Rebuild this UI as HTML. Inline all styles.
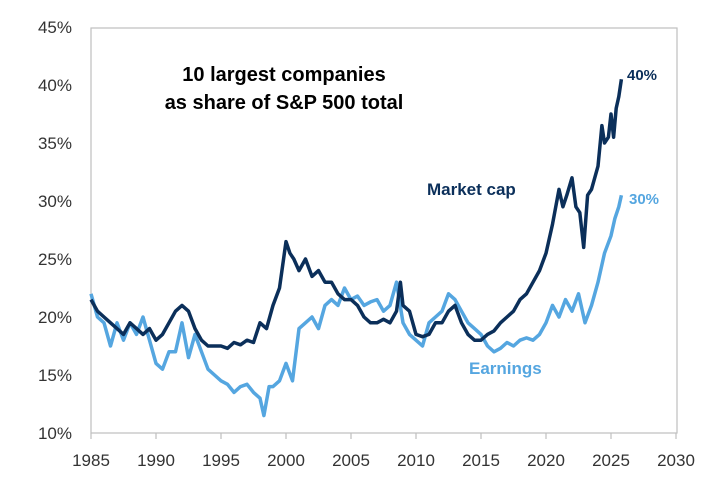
<!DOCTYPE html>
<html><head><meta charset="utf-8"><style>
body{margin:0;background:#fff;font-family:"Liberation Sans",Arial,sans-serif}
svg text{font-family:"Liberation Sans",Arial,sans-serif}
</style></head><body>
<svg id="chart" width="720" height="478" viewBox="0 0 720 478">
<rect x="91" y="28" width="586" height="405" fill="none" stroke="#bfbfbf" stroke-width="1.2"/>
<g id="axes"></g>
<g id="series"></g>
<text x="284" y="81" text-anchor="middle" font-size="20" font-weight="bold" fill="#000">10 largest companies</text>
<text x="284" y="109" text-anchor="middle" font-size="20" font-weight="bold" fill="#000">as share of S&amp;P 500 total</text>
<text x="427" y="195" font-size="17" font-weight="bold" fill="#0b2f5a">Market cap</text>
<text x="469" y="374" font-size="17" font-weight="bold" fill="#55a6e0">Earnings</text>
<text x="627" y="80" font-size="15" font-weight="bold" fill="#0b2f5a">40%</text>
<text x="629" y="204" font-size="15" font-weight="bold" fill="#55a6e0">30%</text>
</svg>
<script>
const yTicks=[10,15,20,25,30,35,40,45];
const xTicks=[1985,1990,1995,2000,2005,2010,2015,2020,2025,2030];
const mcYears=[1985,1985.5,1986,1986.5,1987,1987.5,1988,1988.5,1989,1989.5,1990,1990.5,1991,1991.5,1992,1992.5,1993,1993.5,1994,1994.5,1995,1995.5,1996,1996.5,1997,1997.5,1998,1998.5,1999,1999.5,2000,2000.3,2000.6,2001,2001.5,2002,2002.5,2003,2003.5,2004,2004.5,2005,2005.5,2006,2006.5,2007,2007.5,2008,2008.5,2008.8,2009,2009.5,2010,2010.5,2011,2011.5,2012,2012.5,2013,2013.5,2014,2014.5,2015,2015.5,2016,2016.5,2017,2017.5,2018,2018.5,2019,2019.5,2020,2020.5,2021,2021.3,2021.6,2022,2022.3,2022.6,2022.9,2023.2,2023.5,2024,2024.3,2024.5,2024.8,2025,2025.2,2025.4,2025.6,2025.8];
const mcValues=[21.5,20.5,20,19.5,19,18.5,19.5,19,18.5,19,18,18.5,19.5,20.5,21,20.5,19,18,17.5,17.5,17.5,17.3,17.8,17.6,18,17.8,19.5,19,21,22.5,26.5,25.5,25,24,25,23.5,24,23,23,22,21.5,21.5,21,20,19.5,19.5,19.8,19.5,20.5,23,21,20.5,18.5,18.3,18.5,19.5,19.5,20.5,21,19.5,18.5,18,18,18.5,18.8,19.5,20,20.5,21.5,22,23,24,25.5,28,31,29.5,30.5,32,29.5,29,26,30.5,31,33,36.5,35,35.5,37.5,35.5,38,39,40.5];
const erYears=[1985,1985.5,1986,1986.5,1987,1987.5,1988,1988.5,1989,1989.5,1990,1990.5,1991,1991.5,1992,1992.5,1993,1993.5,1994,1994.5,1995,1995.5,1996,1996.5,1997,1997.5,1998,1998.3,1998.7,1999,1999.5,2000,2000.5,2001,2001.5,2002,2002.5,2003,2003.5,2004,2004.5,2005,2005.5,2006,2006.5,2007,2007.5,2008,2008.5,2009,2009.5,2010,2010.5,2011,2011.5,2012,2012.5,2013,2013.5,2014,2014.5,2015,2015.5,2016,2016.5,2017,2017.5,2018,2018.5,2019,2019.5,2020,2020.5,2021,2021.5,2022,2022.5,2023,2023.5,2024,2024.5,2025,2025.3,2025.6,2025.8];
const erValues=[22,20,19.5,17.5,19.5,18,19.5,18.5,20,18,16,15.5,17,17,19.5,16.5,18.5,17,15.5,15,14.5,14.2,13.5,14,14.2,13.5,13,11.5,14,14,14.5,16,14.5,19,19.5,20,19,21,21.5,21,22.5,21.5,21.8,21,21.3,21.5,20.5,21,23,19.5,18.5,18,17.5,19.5,20,20.5,22,21.5,20.5,19.5,19,18.5,17.5,17,17.3,17.8,17.5,18,18.2,18,18.5,19.5,21,20,21.5,20.5,22,19.5,21,23,25.5,27,28.5,29.5,30.5];
const NS='http://www.w3.org/2000/svg';
const x=v=>91+(v-1985)*13;
const y=v=>433-(v-10)*11.6;
const axes=document.getElementById('axes'),series=document.getElementById('series');
function mk(t,a){const e=document.createElementNS(NS,t);for(const k in a)e.setAttribute(k,a[k]);return e;}
yTicks.forEach(t=>{
 const e=mk('text',{x:72,y:y(t)+6,'text-anchor':'end','font-size':17,fill:'#333'});
 e.textContent=t+'%';
 
 
 axes.appendChild(e);
});
xTicks.forEach(t=>{
 const l=mk('line',{x1:x(t),x2:x(t),y1:433,y2:439,stroke:'#bfbfbf','stroke-width':1.2});
 
 
 axes.appendChild(l);
 const e=mk('text',{x:x(t),y:466,'text-anchor':'middle','font-size':17,fill:'#333'});
 e.textContent=t;
 
 
 axes.appendChild(e);
});
function line(xs,vs,c,n){
 const p=mk('path',{d:xs.map((t,i)=>(i?'L':'M')+x(t).toFixed(1)+','+y(vs[i]).toFixed(1)).join(''),fill:'none',stroke:c,'stroke-width':3.5,'stroke-linejoin':'round'});
 
 
 series.appendChild(p);
}
line(erYears,erValues,'#55a6e0','earnings-line');
line(mcYears,mcValues,'#0b2f5a','market-cap-line');
</script>
</body></html>
